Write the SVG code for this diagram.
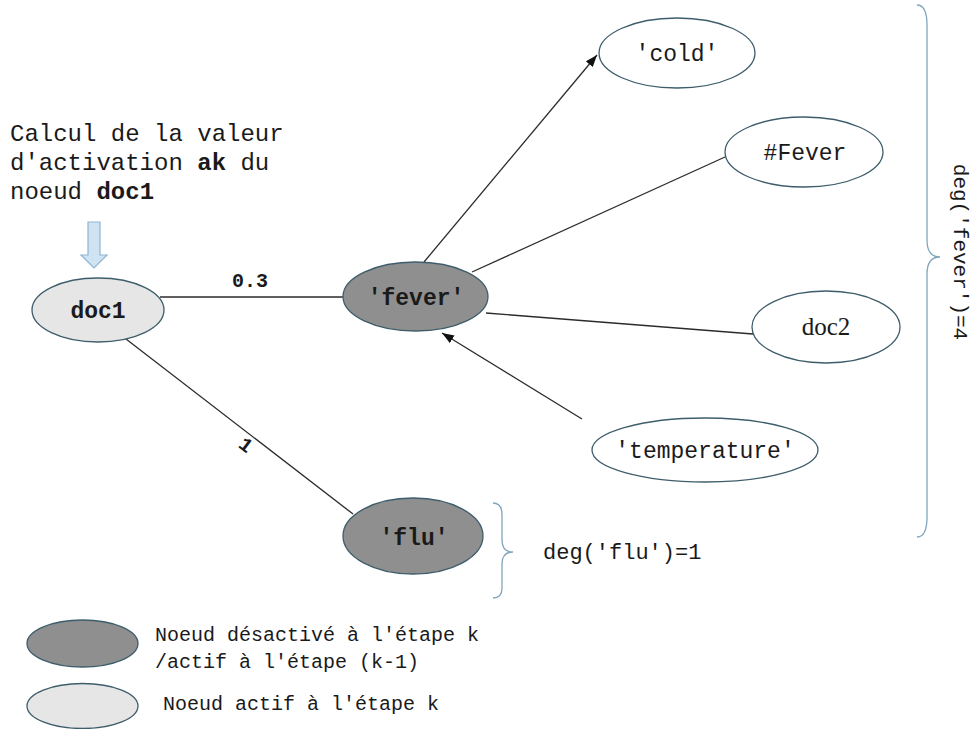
<svg xmlns="http://www.w3.org/2000/svg" width="974" height="729" viewBox="0 0 974 729">
  <style>
    .mono { font-family: "Liberation Mono", "Courier New", monospace; fill: #1a1a1a; }
    .bold { font-weight: bold; }
    .serif { font-family: "Liberation Serif", "Times New Roman", serif; fill: #1a1a1a; }
    .node { stroke: #3e5d6b; stroke-width: 1.3; }
    .dark { fill: #8f8f8f; }
    .light { fill: #e6e6e6; }
    .white { fill: #ffffff; }
    .edge { stroke: #2b2b2b; stroke-width: 1.3; fill: none; }
    .brace { stroke: #7fa6bd; stroke-width: 1.3; fill: none; }
  </style>
  <defs>
    <marker id="arrow" markerUnits="userSpaceOnUse" markerWidth="13" markerHeight="10" refX="12" refY="4.5" orient="auto">
      <path d="M0,0 L12,4.5 L0,9 z" fill="#111"/>
    </marker>
  </defs>
  <rect width="974" height="729" fill="#ffffff"/>

  <!-- caption above doc1 -->
  <g id="caption">
    <text class="mono" font-size="24" x="10" y="141">Calcul de la valeur</text>
    <text class="mono" font-size="24" x="10" y="170">d'activation <tspan class="bold">ak</tspan> du</text>
    <text class="mono" font-size="24" x="10" y="199">noeud <tspan class="bold">doc1</tspan></text>
    <path d="M88,222 L100,222 L100,255 L107,255 L94,268 L81,255 L88,255 z" fill="#cfe3f2" stroke="#8db5d3" stroke-width="1.2"/>
  </g>

  <!-- connectors -->
  <g id="connectors">
    <line class="edge" x1="160" y1="297" x2="343" y2="297"/>
    <line class="edge" x1="126" y1="339" x2="353" y2="514"/>
    <line class="edge" x1="424" y1="262" x2="597" y2="55" marker-end="url(#arrow)"/>
    <line class="edge" x1="472" y1="272" x2="725" y2="157"/>
    <line class="edge" x1="486" y1="313" x2="753" y2="334"/>
    <line class="edge" x1="582" y1="419" x2="442" y2="333" marker-end="url(#arrow)"/>
    <text class="mono bold" font-size="20" x="250" y="287" text-anchor="middle">0.3</text>
    <text class="mono bold" font-size="20" text-anchor="middle" transform="translate(242,450) rotate(37)">1</text>
  </g>

  <g id="doc1">
    <ellipse class="node light" cx="98" cy="310" rx="66" ry="32"/>
    <text class="mono bold" font-size="23" x="98" y="318" text-anchor="middle">doc1</text>
  </g>

  <g id="fever">
    <ellipse class="node dark" cx="415.5" cy="296.5" rx="72.5" ry="34.5"/>
    <text class="mono bold" font-size="23" x="416" y="305" text-anchor="middle">'fever'</text>
  </g>

  <g id="flu">
    <ellipse class="node dark" cx="413" cy="536" rx="70" ry="38"/>
    <text class="mono bold" font-size="23" x="414" y="545" text-anchor="middle">'flu'</text>
  </g>

  <g id="cold">
    <ellipse class="node white" cx="677" cy="53" rx="78" ry="35"/>
    <text class="mono" font-size="23" x="677" y="61" text-anchor="middle">'cold'</text>
  </g>

  <g id="hashFever">
    <ellipse class="node white" cx="804" cy="152" rx="79" ry="35"/>
    <text class="mono" font-size="23" x="805" y="160" text-anchor="middle">#Fever</text>
  </g>

  <g id="doc2">
    <ellipse class="node white" cx="826" cy="327" rx="74" ry="36"/>
    <text class="serif" font-size="25" x="826" y="335" text-anchor="middle">doc2</text>
  </g>

  <g id="temperature">
    <ellipse class="node white" cx="705" cy="450" rx="113" ry="32"/>
    <text class="mono" font-size="23" x="705" y="458" text-anchor="middle">'temperature'</text>
  </g>

  <!-- degree braces -->
  <g id="degFever">
    <path class="brace" d="M917,5 Q927,5 927,25 L927,240 Q927,257 940,257 Q927,257 927,274 L927,517 Q927,537 917,537"/>
    <text class="mono" font-size="21" text-anchor="middle" transform="translate(954,252) rotate(90)">deg('fever')=4</text>
  </g>

  <g id="degFlu">
    <path class="brace" d="M493,503 Q502,503 502,515 L502,540 Q502,552 513,552 Q502,552 502,564 L502,588 Q502,598 493,598"/>
    <text class="mono" font-size="22" x="543" y="559">deg('flu')=1</text>
  </g>

  <!-- legend -->
  <g id="legend">
    <ellipse class="node dark" cx="82.5" cy="643.5" rx="55.5" ry="23.5"/>
    <ellipse class="node light" cx="82.5" cy="706" rx="55.5" ry="22.5"/>
    <text class="mono" font-size="20" x="155" y="641">Noeud désactivé à l'étape k</text>
    <text class="mono" font-size="20" x="155" y="668">/actif à l'étape (k-1)</text>
    <text class="mono" font-size="20" x="163" y="710">Noeud actif à l'étape k</text>
  </g>
</svg>
